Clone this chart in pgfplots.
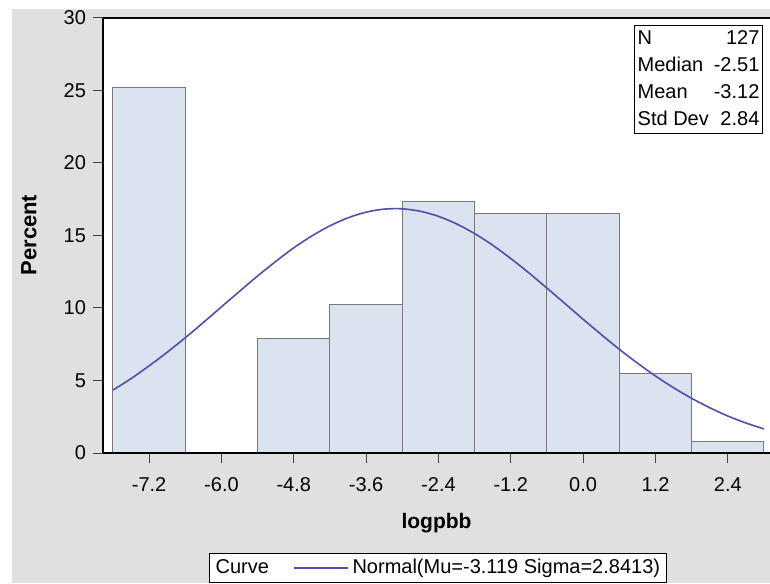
\documentclass[border=0pt]{standalone}
\usepackage{pgfplots}
\pgfplotsset{compat=1.18}
\usepackage{fontspec}
\setmainfont{Liberation Sans}
\definecolor{bgray}{RGB}{224,224,224}
\definecolor{barfill}{RGB}{218,227,239}
\definecolor{baredge}{RGB}{120,120,120}
\definecolor{curveblue}{RGB}{80,80,172}
\begin{document}
\begin{tikzpicture}
\path[use as bounding box] (0,0) rectangle (385pt,291.5pt);
\fill[white] (0,0) rectangle (385pt,291.5pt);
\fill[bgray] (6pt,0) rectangle (385pt,287pt);
\begin{axis}[
  at={(51.5pt,65pt)}, anchor=south west,
  scale only axis, width=333.5pt, height=217.5pt,
  xmin=-7.965, xmax=3.1, ymin=0, ymax=30,
  axis on top,
  axis x line*=box, axis y line*=left,
  axis line style={black, line width=0.6pt},
  axis background/.style={fill=white},
  xtick={-7.2,-6.0,-4.8,-3.6,-2.4,-1.2,0.0,1.2,2.4},
  ytick={0,5,10,15,20,25,30},
  tick align=outside, tick pos=left,
  major tick length=5pt,
  tick style={black!75, line width=0.5pt},
  font=\fontsize{10}{12}\selectfont,
  /pgf/number format/assume math mode=true,
  xticklabel style={yshift=-3.5pt, /pgf/number format/.cd, fixed, fixed zerofill, precision=1},
  yticklabel style={/pgf/number format/.cd, fixed, precision=0},
  xlabel={\textbf{logpbb}}, ylabel={\textbf{Percent}},
  every axis x label/.style={at={(axis description cs:0.5,-0.161)}, anchor=center,
    font=\fontsize{10.5}{12}\selectfont},
  every axis y label/.style={at={(axis description cs:-0.111,0.501)}, rotate=90, anchor=center,
    font=\fontsize{11}{12}\selectfont},
  legend columns=2,
  legend style={at={(axis description cs:0.502,-0.264)}, anchor=center, draw=black, fill=white,
    font=\fontsize{10}{12}\selectfont, inner sep=1pt, row sep=0pt,
    /tikz/every even column/.append style={column sep=10pt}},
  legend image code/.code={\draw[#1] (0pt,0pt) -- (27pt,0pt);},
  legend cell align=left,
]
\addlegendimage{empty legend}
\addlegendentry{Curve}
\addplot[ybar interval, fill=barfill, draw=baredge, line width=0.5pt, forget plot] coordinates {
  (-7.8,25.197) (-6.6,25.197)
};
\addplot[ybar interval, fill=barfill, draw=baredge, line width=0.5pt, forget plot] coordinates {
  (-5.4,7.874) (-4.2,10.236) (-3.0,17.323)
  (-1.8,16.535) (-0.6,16.535) (0.6,5.512) (1.8,0.787) (3.0,0.787)
};
\addplot[curveblue, line width=0.8pt, smooth, mark=none] coordinates {
  (-7.8,4.34) (-7.5,5.13) (-7.2,6.01) (-6.9,6.95) (-6.6,7.95) (-6.3,9.00)
  (-6.0,10.08) (-5.7,11.15) (-5.4,12.21) (-5.1,13.21) (-4.8,14.15) (-4.5,14.97)
  (-4.2,15.67) (-3.9,16.22) (-3.6,16.61) (-3.3,16.82) (-3.0,16.84) (-2.7,16.67)
  (-2.4,16.32) (-2.1,15.80) (-1.8,15.13) (-1.5,14.33) (-1.2,13.41) (-0.9,12.42)
  (-0.6,11.37) (-0.3,10.30) (0.0,9.22) (0.3,8.17) (0.6,7.15) (0.9,6.20)
  (1.2,5.31) (1.5,4.50) (1.8,3.77) (2.1,3.12) (2.4,2.55) (2.7,2.07) (3.0,1.66)
};
\addlegendentry{Normal(Mu=-3.119 Sigma=2.8413)}
\node[draw=black, line width=0.6pt, fill=white, inner sep=0pt, anchor=north east,
  font=\fontsize{10}{13.5}\selectfont]
  at (axis description cs:0.9895,0.984) {%
  \begin{tabular}{@{\hspace{1.5pt}}l@{\hspace{2.5pt}}r@{\hspace{1.5pt}}}
  N & 127\\
  Median & -2.51\\
  Mean & -3.12\\
  Std Dev & 2.84
  \end{tabular}};
\end{axis}
\end{tikzpicture}
\end{document}
